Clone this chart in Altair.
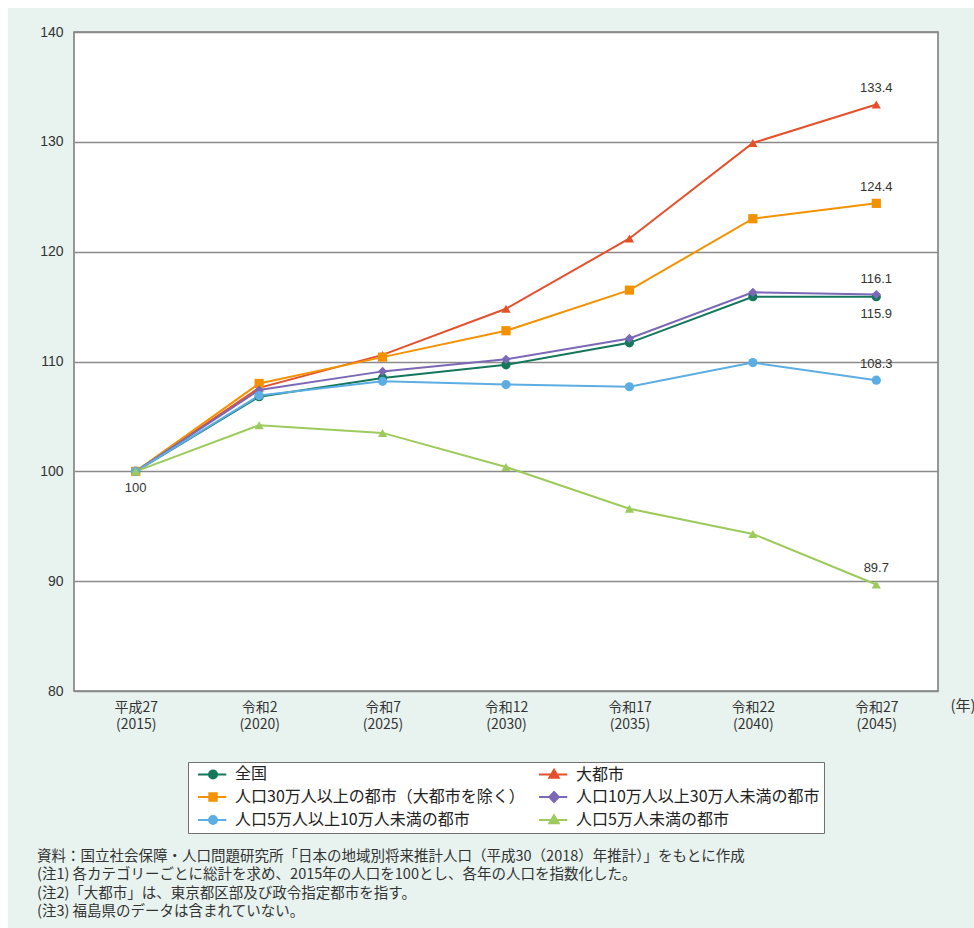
import altair as alt
import pandas as pd

# x-axis categories: Japanese era year and western year
era_labels = ["平成27", "令和2", "令和7", "令和12", "令和17", "令和22", "令和27"]
western_years = [2015, 2020, 2025, 2030, 2035, 2040, 2045]

# series (population index, 2015 = 100)
series_names = [
    "全国",
    "大都市",
    "人口30万人以上の都市（大都市を除く）",
    "人口10万人以上30万人未満の都市",
    "人口5万人以上10万人未満の都市",
    "人口5万人未満の都市",
]
national = [100, 106.8, 108.5, 109.7, 111.7, 115.9, 115.9]
big_cities = [100, 107.6, 110.6, 114.8, 121.2, 129.9, 133.4]
cities_300k = [100, 108.0, 110.4, 112.8, 116.5, 123.0, 124.4]
cities_100k_300k = [100, 107.4, 109.1, 110.2, 112.1, 116.3, 116.1]
cities_50k_100k = [100, 106.9, 108.2, 107.9, 107.7, 109.9, 108.3]
cities_under_50k = [100, 104.2, 103.5, 100.4, 96.6, 94.3, 89.7]
series_values = [national, big_cities, cities_300k, cities_100k_300k,
                 cities_50k_100k, cities_under_50k]

series_colors = ["#14775c", "#e5502b", "#f29200", "#7b68b6", "#5badE2", "#9ccb5c"]
marker_shapes = ["circle", "triangle-up", "square", "diamond", "circle", "triangle-up"]

# which end points carry a value label (above / below the marker)
labels_above = [(series_names[i], 2045) for i in (1, 2, 3, 4, 5)]
labels_below = [(series_names[0], 2045), (series_names[0], 2015)]

notes = [
    "資料：国立社会保障・人口問題研究所「日本の地域別将来推計人口（平成30（2018）年推計）」をもとに作成",
    "(注1) 各カテゴリーごとに総計を求め、2015年の人口を100とし、各年の人口を指数化した。",
    "(注2)「大都市」は、東京都区部及び政令指定都市を指す。",
    "(注3) 福島県のデータは含まれていない。",
]

x_labels = [f"{e}\n({y})" for e, y in zip(era_labels, western_years)]

rows = []
for name, shp, vals in zip(series_names, marker_shapes, series_values):
    for lab, yr, v in zip(x_labels, western_years, vals):
        rows.append({"系列": name, "記号": shp, "年次": lab, "西暦": yr, "指数": v})
df = pd.DataFrame(rows)

def pick(pairs):
    keys = set(pairs)
    return df[[(s, y) in keys for s, y in zip(df["系列"], df["西暦"])]]

df_above = pick(labels_above)
df_below = pick(labels_below)

JP = "Noto Sans CJK JP"
NUM = "Liberation Sans"

# legend symbols: a short line with the series marker on it
LINE = "M-0.33,0H4.38"
legend_marks = {
    "circle": "M1.5,0A0.67,0.67,0,1,1,2.84,0A0.67,0.67,0,1,1,1.5,0Z",
    "triangle-up": "M2.17,-0.8L2.95,0.55L1.39,0.55Z",
    "square": "M1.55,-0.62H2.79V0.62H1.55Z",
    "diamond": "M2.17,-0.85L2.97,0L2.17,0.85L1.37,0Z",
}
legend_paths = [LINE + legend_marks[s] for s in marker_shapes]
names_js = "[" + ",".join(f"'{n}'" for n in series_names) + "]"
paths_js = "[" + ",".join(f"'{p}'" for p in legend_paths) + "]"
shape_expr = f"{paths_js}[indexof({names_js}, datum.value)]"

x_enc = alt.X(
    "年次:N",
    sort=x_labels,
    axis=alt.Axis(
        labelExpr="split(datum.label, '\\n')",
        labelAngle=0, ticks=False, domain=False, grid=False,
        labelPadding=9, labelFont=JP, labelFontSize=14, labelColor="#333333",
        labelLineHeight=17,
        title="(年)", titleX=876, titleY=14, titleAlign="left",
        titleBaseline="middle", titleFont=JP, titleFontSize=15,
        titleFontWeight="normal", titleColor="#333333",
    ),
)
y_enc = alt.Y(
    "指数:Q",
    scale=alt.Scale(domain=[80, 140], nice=False, zero=False),
    axis=alt.Axis(
        values=[80, 90, 100, 110, 120, 130, 140],
        ticks=False, domain=False, labelPadding=11,
        labelFont=NUM, labelFontSize=14, labelColor="#333333",
        gridColor="#8a8a8a", gridWidth=1.5, title=None,
    ),
)
color_enc = alt.Color(
    "系列:N",
    scale=alt.Scale(domain=series_names, range=series_colors),
    legend=alt.Legend(
        title=None, orient="none", legendX=114, legendY=730,
        direction="horizontal", columns=2, columnPadding=8,
        rowPadding=4, padding=4,
        fillColor="white", strokeColor="#707070",
        labelFont=JP, labelFontSize=16, labelColor="#222222", labelLimit=400,
        labelOffset=27, symbolSize=144, symbolStrokeWidth=2,
        symbolOpacity=1,
        symbolType={"expr": shape_expr},
    ),
)

base = alt.Chart(df).encode(x=x_enc, y=y_enc, color=color_enc)

lines = base.mark_line(strokeWidth=2)
points = base.mark_point(filled=True, size=85, opacity=1).encode(
    shape=alt.Shape("記号:N", scale=None, legend=None)
)

label_style = dict(font=NUM, fontSize=13, color="#333333", baseline="middle")
text_above = alt.Chart(df_above).mark_text(dy=-16, **label_style).encode(
    x=alt.X("年次:N", sort=x_labels), y="指数:Q",
    text=alt.Text("指数:Q", format=".1~f"),
)
text_below = alt.Chart(df_below).mark_text(dy=17, **label_style).encode(
    x=alt.X("年次:N", sort=x_labels), y="指数:Q",
    text=alt.Text("指数:Q", format=".1~f"),
)

# source and footnotes under the legend
one = alt.Data(values=[{}])
note_text = alt.Chart(one).mark_text(
    align="left", baseline="top", font=JP, fontSize=14.5, color="#333333",
    lineHeight=18.3, lineBreak="\n",
).encode(x=alt.value(-37), y=alt.value(818), text=alt.value("\n".join(notes)))

# thin white margin along the top and left edge of the page
top_strip = alt.Chart(one).mark_rect(color="white").encode(
    x=alt.value(-74), x2=alt.value(900), y=alt.value(-32), y2=alt.value(-24))
left_strip = alt.Chart(one).mark_rect(color="white").encode(
    x=alt.value(-74), x2=alt.value(-66), y=alt.value(-32), y2=alt.value(896))

chart = (
    alt.layer(top_strip, left_strip, lines, points, text_above, text_below,
              note_text)
    .properties(
        width=864, height=659,
        autosize=alt.AutoSizeParams(type="none"),
        padding={"left": 74, "top": 32, "right": 36, "bottom": 237},
    )
    .configure(background="#e8f3f0")
    .configure_view(fill="white", stroke="#777777", strokeWidth=1.5)
)

chart.save("out.html", embed_options={"renderer": "svg", "actions": False})
